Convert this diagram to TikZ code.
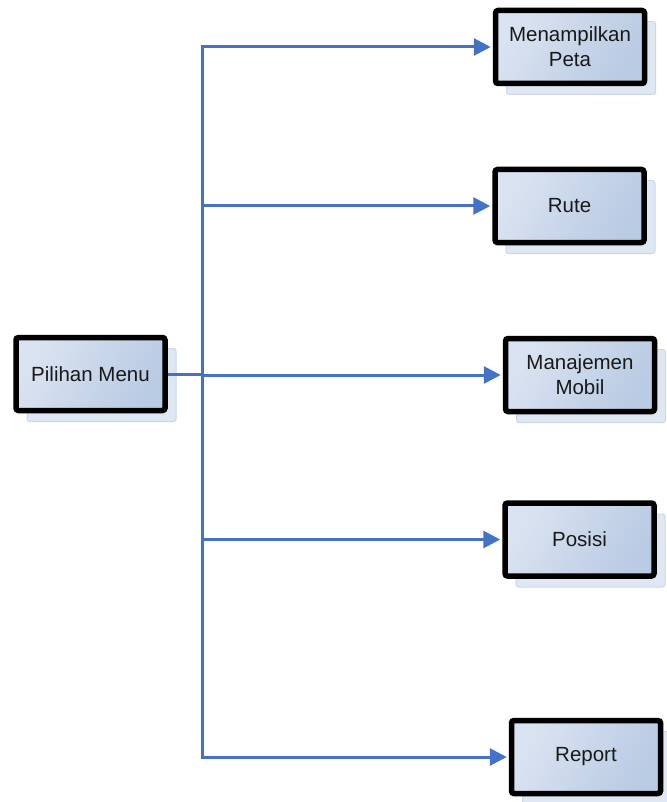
\documentclass[tikz,border=0pt]{standalone}
\usepackage{fontspec}
\setmainfont{Liberation Sans}
\usetikzlibrary{arrows.meta,shadows}
\definecolor{boxlight}{HTML}{DAE3F1}
\definecolor{boxdark}{HTML}{B9CAE3}
\definecolor{shadowfill}{HTML}{DFE7F3}
\definecolor{shadowline}{HTML}{CAD7EB}
\definecolor{linkblue}{HTML}{4472C4}
\tikzset{
  menubox/.style={draw=black, line width=5.5pt, rounded corners=2.5pt,
    minimum width=149pt, minimum height=73pt, inner sep=0pt,
    align=center, font=\fontsize{20.5}{25}\selectfont, text=black!90,
    top color=boxlight, bottom color=boxdark, shading angle=60,
    general shadow={shadow xshift=11pt, shadow yshift=-11pt, fill=shadowfill, draw=shadowline, line width=1pt}},
  link/.style={draw=linkblue, line width=3pt},
  linkarrow/.style={link, -{Triangle[length=17pt,width=17pt]}, shorten >=2pt}
}
\begin{document}
\begin{tikzpicture}[x=1pt,y=-1pt]
\useasboundingbox (0,0) rectangle (666,802);
\node[menubox] (peta) at (570,47) {Menampilkan\\Peta};
\node[menubox] (rute) at (569.5,206) {Rute};
\node[menubox] (pm) at (90.5,374) {Pilihan Menu};
\node[menubox] (mobil) at (580,375) {Manajemen\\Mobil};
\node[menubox] (posisi) at (579.5,539.5) {Posisi};
\node[menubox] (report) at (586,757) {Report};
\coordinate (ttop) at (202,47);
\coordinate (tbot) at (202,757);
\draw[link, line cap=rect] (ttop) -- (tbot);
\draw[link] (pm.east) -- (pm.east -| ttop);
\draw[linkarrow] (ttop) -- (peta.west);
\draw[linkarrow] (rute.west -| ttop) -- (rute.west);
\draw[linkarrow] (mobil.west -| ttop) -- (mobil.west);
\draw[linkarrow] (posisi.west -| ttop) -- (posisi.west);
\draw[linkarrow] (tbot) -- (report.west);
\end{tikzpicture}
\end{document}
